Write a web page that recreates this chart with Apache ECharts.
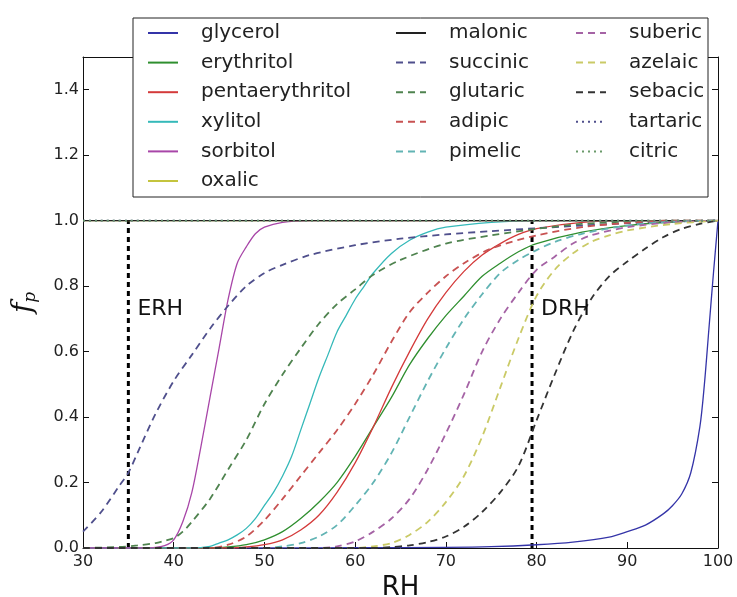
<!DOCTYPE html>
<html>
<head>
<meta charset="utf-8">
<script src="https://cdn.jsdelivr.net/npm/echarts@6/dist/echarts.min.js"></script>
<style>
html, body { margin: 0; padding: 0; background: #fff; }
#chart { width: 737px; height: 597px; }
</style>
</head>
<body>
<div id="chart"></div>
<script>
// [RH, f_p] pairs
const glycerol = [[30,0],[50,0],[60,0.001],[70,0.002],[75,0.004],[80,0.01],[84,0.018],[88,0.033],[90,0.05],[92,0.07],[94,0.105],[95,0.13],[96,0.165],[97,0.23],[98,0.37],[98.5,0.5],[99,0.67],[99.5,0.84],[100,1]];
const erythritol = [[30,0],[44,0],[46,0.003],[48,0.01],[50,0.025],[52,0.05],[54,0.09],[56,0.14],[58,0.2],[60,0.28],[62,0.37],[64,0.46],[66,0.56],[68,0.64],[70,0.71],[72,0.77],[74,0.83],[76,0.87],[78,0.905],[80,0.93],[85,0.965],[90,0.985],[95,0.996],[100,1]];
const pentaerythritol = [[30,0],[46,0],[48,0.003],[50,0.01],[52,0.025],[54,0.055],[56,0.1],[58,0.17],[60,0.26],[62,0.37],[64,0.49],[66,0.6],[68,0.7],[70,0.78],[72,0.845],[74,0.895],[76,0.93],[78,0.958],[80,0.976],[85,0.995],[90,1],[100,1]];
const xylitol = [[30,0],[42,0],[44,0.005],[45,0.015],[46,0.025],[47,0.04],[48,0.06],[49,0.09],[50,0.13],[51,0.17],[52,0.22],[53,0.28],[54,0.36],[55,0.44],[56,0.52],[57,0.59],[58,0.66],[59,0.71],[60,0.76],[61,0.8],[62,0.84],[64,0.9],[66,0.94],[68,0.965],[70,0.98],[75,0.995],[80,1],[100,1]];
const sorbitol = [[30,0],[37,0],[38,0.002],[39,0.007],[40,0.025],[41,0.08],[42,0.17],[43,0.31],[44,0.46],[45,0.61],[46,0.76],[47,0.87],[48,0.92],[49,0.96],[50,0.98],[52,0.995],[55,1],[100,1]];
const oxalic = [[30,1],[100,1]];
const malonic = [[30,1],[100,1]];
const succinic = [[30,0.05],[32,0.11],[34,0.19],[35,0.23],[36,0.29],[38,0.41],[40,0.51],[42,0.59],[44,0.67],[46,0.74],[48,0.8],[50,0.84],[52,0.865],[55,0.895],[60,0.925],[65,0.945],[70,0.958],[75,0.968],[80,0.977],[85,0.985],[90,0.992],[95,0.997],[100,1]];
const glutaric = [[30,0],[34,0.003],[36,0.008],[38,0.015],[39,0.022],[40,0.03],[41,0.05],[42,0.08],[44,0.15],[46,0.24],[48,0.33],[50,0.44],[52,0.53],[54,0.61],[56,0.685],[58,0.745],[60,0.79],[62,0.835],[65,0.88],[70,0.93],[75,0.955],[80,0.975],[85,0.99],[90,0.997],[95,1],[100,1]];
const adipic = [[30,0],[44,0],[46,0.01],[48,0.035],[50,0.085],[52,0.15],[54,0.22],[56,0.29],[58,0.36],[60,0.44],[62,0.53],[64,0.63],[66,0.72],[68,0.78],[70,0.83],[72,0.87],[75,0.915],[80,0.955],[85,0.98],[90,0.993],[95,1],[100,1]];
const pimelic = [[30,0],[50,0],[52,0.005],[54,0.015],[56,0.035],[58,0.07],[60,0.13],[62,0.2],[64,0.29],[66,0.4],[68,0.51],[70,0.61],[72,0.7],[74,0.775],[76,0.84],[78,0.88],[80,0.91],[82,0.935],[85,0.96],[90,0.985],[95,0.997],[100,1]];
const suberic = [[30,0],[56,0],[58,0.005],[60,0.02],[62,0.05],[64,0.09],[66,0.15],[68,0.24],[70,0.35],[72,0.47],[74,0.6],[76,0.7],[78,0.78],[80,0.85],[82,0.89],[84,0.93],[86,0.955],[90,0.98],[95,0.995],[100,1]];
const azelaic = [[30,0],[60,0],[62,0.005],[64,0.015],[66,0.04],[68,0.08],[70,0.14],[72,0.22],[74,0.34],[76,0.49],[78,0.64],[80,0.77],[82,0.85],[84,0.9],[86,0.935],[88,0.955],[90,0.97],[95,0.99],[100,1]];
const sebacic = [[30,0],[62,0],[64,0.003],[66,0.008],[68,0.018],[70,0.035],[72,0.065],[74,0.11],[76,0.17],[78,0.25],[80,0.39],[82,0.53],[84,0.66],[86,0.76],[88,0.83],[90,0.875],[92,0.915],[94,0.95],[96,0.975],[98,0.99],[100,1]];
const tartaric = [[30,1],[100,1]];
const citric = [[30,1],[100,1]];

const erh = 35;
const drh = 79.5;
const markerText = [[erh + 1, 0.73, 'ERH'], [drh + 1, 0.73, 'DRH']];

const col1 = ['glycerol', 'erythritol', 'pentaerythritol', 'xylitol', 'sorbitol', 'oxalic'];
const col2 = ['malonic', 'succinic', 'glutaric', 'adipic', 'pimelic'];
const col3 = ['suberic', 'azelaic', 'sebacic', 'tartaric', 'citric'];

const FONT = 'DejaVu Sans';

function curve(name, data, color, dash) {
    let type = 'solid', width = 1.3;
    if (dash == 'dashed') { type = [7, 5]; width = 1.8; }
    if (dash == 'dotted') { type = [2, 4]; width = 1.8; }
    return {
        name: name,
        type: 'line',
        data: data,
        smooth: 0.3,
        symbol: 'none',
        color: color,
        lineStyle: { color: color, width: width, type: type }
    };
}

function legendCol(names, left) {
    return {
        data: names,
        orient: 'vertical',
        left: left,
        top: 23,
        padding: 0,
        itemWidth: 30,
        itemHeight: 14,
        itemGap: 9.6,
        selectedMode: false,
        itemStyle: { opacity: 0 },
        textStyle: { fontFamily: FONT, fontSize: 20, lineHeight: 20, color: '#222', padding: [0, 0, 0, 18] }
    };
}

let chart = echarts.init(document.getElementById('chart'), null, { renderer: 'canvas' });

let axisBase = {
    type: 'value',
    axisLine: { show: true, onZero: false, lineStyle: { color: '#111', width: 1 } },
    axisTick: { show: true, inside: true, length: 6, lineStyle: { color: '#111' } },
    splitLine: { show: false }
};

chart.setOption({
    animation: false,
    backgroundColor: '#fff',
    grid: { left: 83, right: 19, top: 57, bottom: 49, outerBoundsMode: 'none', containLabel: false },
    graphic: [{
        type: 'rect',
        z: 3,
        shape: { x: 133, y: 18, width: 575, height: 179 },
        style: { fill: '#fff', stroke: '#222', lineWidth: 1 }
    }],
    legend: [legendCol(col1, 147), legendCol(col2, 395), legendCol(col3, 575)],
    xAxis: [
        Object.assign({}, axisBase, {
            position: 'bottom', min: 30, max: 100, interval: 10,
            axisLabel: { fontFamily: FONT, fontSize: 16, color: '#222', margin: 6 },
            name: 'RH', nameLocation: 'middle', nameGap: 24,
            nameTextStyle: { fontFamily: FONT, fontSize: 26, color: '#111' }
        }),
        Object.assign({}, axisBase, {
            position: 'top', min: 30, max: 100, interval: 10,
            axisLabel: { show: false }
        })
    ],
    yAxis: [
        Object.assign({}, axisBase, {
            position: 'left', min: 0, max: 1.5, interval: 0.2,
            axisLabel: {
                fontFamily: FONT, fontSize: 16, color: '#222', margin: 4,
                formatter: v => (v > 1.45 ? '' : v.toFixed(1))
            },
            name: '{f|f}{p|p}', nameLocation: 'middle', nameGap: 44, nameRotate: 90,
            nameTextStyle: {
                rich: {
                    f: { fontFamily: 'DejaVu Serif', fontStyle: 'italic', fontSize: 28, color: '#111', lineHeight: 30 },
                    p: { fontFamily: 'DejaVu Serif', fontStyle: 'italic', fontSize: 17, color: '#111', lineHeight: 17, padding: [14, 0, 0, 0] }
                }
            }
        }),
        Object.assign({}, axisBase, {
            position: 'right', min: 0, max: 1.5, interval: 0.2,
            axisLabel: { show: false }
        })
    ],
    series: [
        curve('glycerol', glycerol, '#3434a8', 'solid'),
        curve('erythritol', erythritol, '#2f8f2f', 'solid'),
        curve('pentaerythritol', pentaerythritol, '#d43a3a', 'solid'),
        curve('xylitol', xylitol, '#35b9b9', 'solid'),
        curve('sorbitol', sorbitol, '#a846a8', 'solid'),
        curve('oxalic', oxalic, '#c4c43e', 'solid'),
        curve('malonic', malonic, '#222222', 'solid'),
        curve('succinic', succinic, '#4f4f8c', 'dashed'),
        curve('glutaric', glutaric, '#4f834f', 'dashed'),
        curve('adipic', adipic, '#c85252', 'dashed'),
        curve('pimelic', pimelic, '#62b4b4', 'dashed'),
        curve('suberic', suberic, '#a563a5', 'dashed'),
        curve('azelaic', azelaic, '#caca66', 'dashed'),
        curve('sebacic', sebacic, '#333333', 'dashed'),
        curve('tartaric', tartaric, '#4f4f8c', 'dotted'),
        curve('citric', citric, '#6a9a6a', 'dotted'),
        {
            name: 'ERH line', type: 'line', symbol: 'none', z: 2.5,
            data: [[erh, 0], [erh, 1]],
            lineStyle: { color: '#000', width: 3, type: [5, 4] }
        },
        {
            name: 'DRH line', type: 'line', symbol: 'none', z: 2.5,
            data: [[drh, 0], [drh, 1]],
            lineStyle: { color: '#000', width: 3, type: [5, 4] }
        },
        {
            name: 'labels', type: 'scatter', symbolSize: 0, z: 3,
            data: markerText,
            itemStyle: { opacity: 1 },
            label: {
                show: true, position: [0, 0], align: 'left', verticalAlign: 'middle',
                fontFamily: FONT, fontSize: 22, color: '#111', opacity: 1,
                formatter: p => p.data[2]
            }
        }
    ]
});
</script>
</body>
</html>
